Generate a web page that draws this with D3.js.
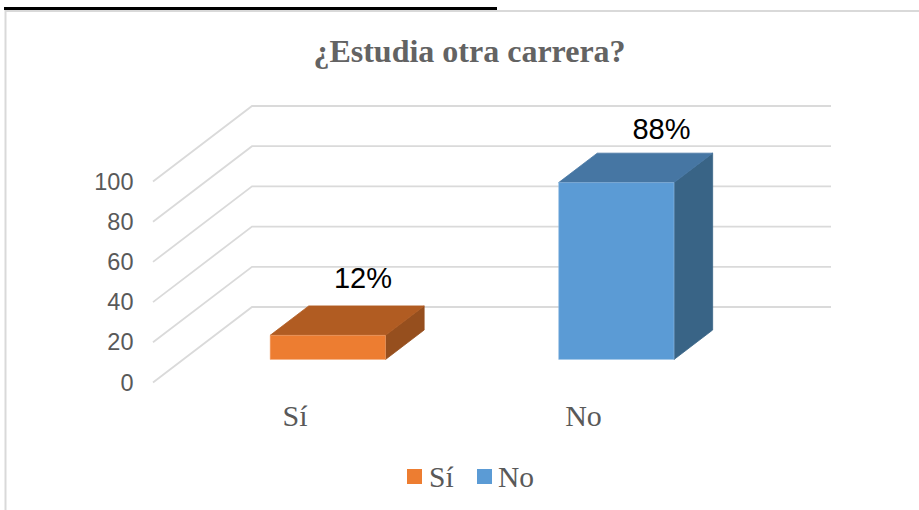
<!DOCTYPE html>
<html>
<head>
<meta charset="utf-8">
<style>
html,body{margin:0;padding:0;background:#fff;}
svg{display:block;}
</style>
<script src="https://cdn.jsdelivr.net/npm/d3@7"></script>
</head>
<body>
<svg id="chart" width="919" height="510"></svg>
<script>
// Data
const titleText = "¿Estudia otra carrera?";
const categories = ["Sí", "No"];
const values = [12, 88];
const valueLabels = ["12%", "88%"];
const yTicks = [0, 20, 40, 60, 80, 100];

// Styling
const fronts = ["#ed7d31", "#5b9bd5"];
const tops = ["#b15c22", "#4676a3"];
const sides = ["#964f1e", "#396486"];
const edges = ["#f4a877", "#9cc3e6"];
const labelNudge = [[-3.5, -18], [6.5, -14]];

const svg = d3.select("#chart");
const W = 919, H = 510;

// Frame
svg.append("rect").attr("x", 0).attr("y", 0).attr("width", W).attr("height", H).attr("fill", "#fff");
svg.append("line").attr("x1", 5).attr("x2", W).attr("y1", 11).attr("y2", 11).attr("stroke", "#d9d9d9").attr("stroke-width", 2);
svg.append("line").attr("x1", 5.5).attr("x2", 5.5).attr("y1", 10).attr("y2", H).attr("stroke", "#d9d9d9").attr("stroke-width", 2);
svg.append("rect").attr("x", 4).attr("y", 7).attr("width", 493).attr("height", 3).attr("fill", "#000");

// Scales: wall plane, with a depth scale projecting toward the viewer
const x = d3.scaleBand().domain(categories).range([252.4, 829.4]).paddingInner(0.6).paddingOuter(0.3);
const y = d3.scaleLinear().domain([0, 100]).range([307, 106]);
const depthX = d3.scaleLinear().domain([0, 1]).range([-99, 0]);
const depthY = d3.scaleLinear().domain([0, 1]).range([75.5, 0]);
const px = (xw, d) => xw + depthX(d);
const py = (v, d) => y(v) + depthY(d);
const dFront = 0.305, dBack = 0.695;

// Gridlines
const grid = svg.append("g").attr("fill", "none").attr("stroke", "#dadada").attr("stroke-width", 1.8);
const lineGen = d3.line();
yTicks.forEach(t => {
  grid.append("path").attr("d", lineGen([
    [px(252, 0), py(t, 0)],
    [px(252, 1), py(t, 1)],
    [831, py(t, 1)]
  ]));
});

// Y axis labels
svg.append("g").selectAll("text").data(yTicks).join("text")
  .attr("x", 133.5).attr("y", t => py(t, 0) + 8)
  .attr("text-anchor", "end")
  .attr("font-family", "Liberation Sans").attr("font-size", 23.5).attr("fill", "#595959")
  .text(t => t);

// Bars
const poly = pts => lineGen(pts) + "Z";
categories.forEach((c, i) => {
  const l = x(c), r = l + x.bandwidth(), v = values[i];
  const g = svg.append("g").attr("stroke-width", 0.8).attr("stroke-linejoin", "round");
  g.append("path").attr("d", poly([
    [px(r, dFront), py(0, dFront)], [px(r, dBack), py(0, dBack)],
    [px(r, dBack), py(v, dBack)], [px(r, dFront), py(v, dFront)]
  ])).attr("fill", sides[i]).attr("stroke", sides[i]);
  g.append("path").attr("d", poly([
    [px(l, dFront), py(v, dFront)], [px(r, dFront), py(v, dFront)],
    [px(r, dBack), py(v, dBack)], [px(l, dBack), py(v, dBack)]
  ])).attr("fill", tops[i]).attr("stroke", tops[i]);
  g.append("rect")
    .attr("x", px(l, dFront)).attr("y", py(v, dFront))
    .attr("width", x.bandwidth()).attr("height", py(0, dFront) - py(v, dFront))
    .attr("fill", fronts[i]).attr("stroke", edges[i]).attr("stroke-width", 0.5);
  // Value label
  svg.append("text")
    .attr("x", px(l + x.bandwidth() / 2, dBack) + labelNudge[i][0])
    .attr("y", py(v, dBack) + labelNudge[i][1])
    .attr("text-anchor", "middle")
    .attr("font-family", "Liberation Sans").attr("font-size", 29).attr("fill", "#000")
    .text(valueLabels[i]);
  // Category label
  svg.append("text")
    .attr("x", px(l + x.bandwidth() / 2, dFront) - 32.8)
    .attr("y", 426)
    .attr("text-anchor", "middle")
    .attr("font-family", "Liberation Serif").attr("font-size", 30).attr("fill", "#595959")
    .text(c);
});

// Title
svg.append("text").attr("x", 469.5).attr("y", 62).attr("text-anchor", "middle")
  .attr("font-family", "Liberation Serif").attr("font-weight", "bold").attr("font-size", 32).attr("fill", "#636363")
  .text(titleText);

// Legend
const legendX = [407, 477];
categories.forEach((c, i) => {
  svg.append("rect").attr("x", legendX[i]).attr("y", 469).attr("width", 15).attr("height", 15).attr("fill", fronts[i]);
  svg.append("text").attr("x", legendX[i] + 22 - i).attr("y", 487)
    .attr("font-family", "Liberation Serif").attr("font-size", 29.5).attr("fill", "#595959")
    .text(c);
});
</script>
</body>
</html>
